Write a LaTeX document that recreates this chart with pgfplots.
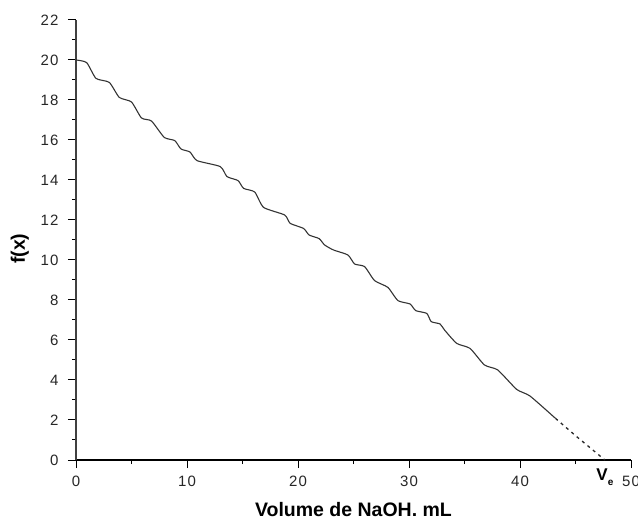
\documentclass[border=0pt]{standalone}
\usepackage{fontspec}
\setmainfont{Liberation Sans}
\newfontfamily\tickfont[LetterSpace=8]{Liberation Sans}
\usepackage{pgfplots}
\pgfplotsset{compat=1.18}
\begin{document}
\begin{tikzpicture}
\path[use as bounding box] (0,0) rectangle (638bp,521bp);
\begin{axis}[
  at={(76bp,61bp)}, anchor=south west,
  scale only axis, width=555bp, height=440bp,
  xmin=0, xmax=50, ymin=0, ymax=22,
  axis lines=left,
  axis line style={-, line width=1.1bp},
  y axis line style={draw=black!75, line width=1.6bp},
  xtick={0,10,...,50}, ytick={0,2,...,22},
  minor x tick num=1, minor y tick num=1,
  tick align=outside,
  major tick length=8bp, minor tick length=4bp,
  tick style={black, line width=1bp},
  /pgf/number format/assume math mode=true,
  ticklabel style={font=\tickfont\fontsize{15bp}{17bp}\selectfont, text=black!85},
  xticklabel style={yshift=-5bp},
  yticklabel style={xshift=-6bp},
  xlabel={Volume de NaOH. mL},
  ylabel={f(x)},
  label style={font=\bfseries\fontsize{19.5bp}{22bp}\selectfont},
  xlabel style={at={(axis description cs:0.5,-0.128)}, anchor=base},
  ylabel style={at={(axis description cs:-0.101,0.48)}, anchor=center},
  clip=false,
]
\addplot[black!80, line width=1.1bp, smooth, tension=0.35] coordinates {
(0,20) (0.96,19.87) (1.8,19.08) (3.0,18.88) (3.9,18.13) (5.0,17.9)
(5.9,17.1) (6.8,16.95) (7.95,16.13) (8.9,15.97) (9.46,15.55) (10.27,15.4)
(10.9,14.97) (13.0,14.67) (13.6,14.17) (14.6,13.97) (15.1,13.58) (16.1,13.4)
(16.9,12.63) (18.8,12.25) (19.3,11.83) (20.5,11.58) (21.0,11.25) (21.9,11.07)
(22.4,10.75) (23.2,10.5) (24.5,10.25) (25.1,9.8) (26.0,9.67) (26.9,8.97)
(28.1,8.63) (29.0,7.97) (30.1,7.8) (30.6,7.47) (31.6,7.33) (32.0,6.92)
(32.8,6.8) (33.2,6.5) (34.3,5.83) (35.5,5.58) (36.8,4.75) (38.0,4.5)
(39.7,3.53) (40.9,3.2) (43.2,2.08)
};
\addplot[black!85, line width=1.3bp, dash pattern=on 3bp off 4bp] coordinates {
(43.2,2.08) (45.1,1.17) (47.65,0)
};
\node[anchor=north, inner sep=0pt, font=\bfseries\fontsize{17bp}{19bp}\selectfont] at (axis cs:47.65,0) [yshift=-9bp] {V\raisebox{-5bp}{\fontsize{10bp}{11bp}\selectfont e}};
\end{axis}
\end{tikzpicture}
\end{document}
